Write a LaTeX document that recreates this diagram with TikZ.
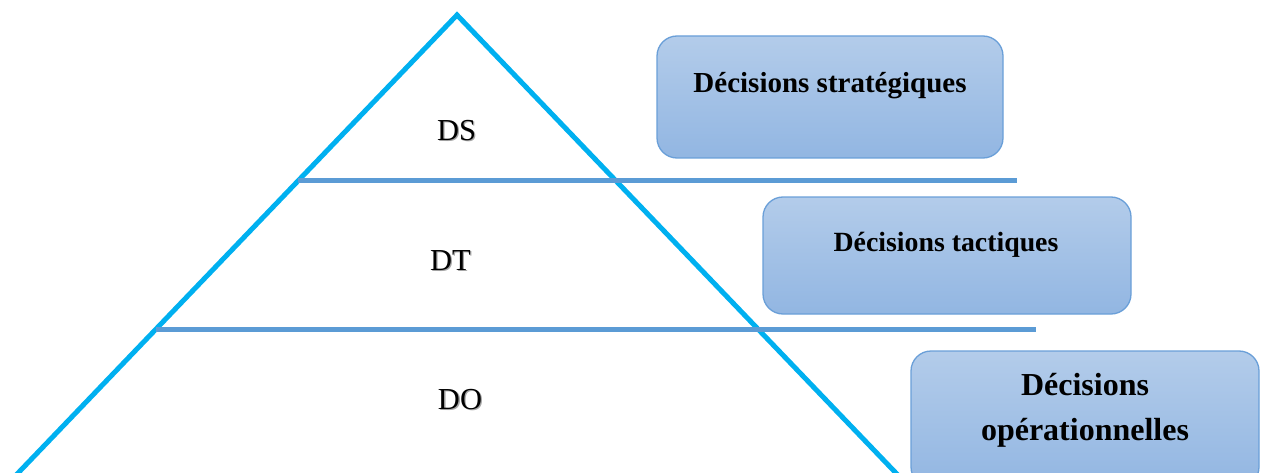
\documentclass[tikz,border=0pt]{standalone}
\usepackage{fontspec}
\setmainfont{Liberation Serif}
\begin{document}
\begin{tikzpicture}[x=1pt,y=-1pt,
  tri/.style={draw=triblue,line width=5pt,line join=miter},
  level/.style={draw=lvlblue,line width=5pt},
  decbox/.style={rectangle,rounded corners=20pt,draw=boxedge,line width=1.3pt,
    top color=boxtop,bottom color=boxbot,inner sep=0pt},
  lab/.style={inner sep=0pt,anchor=base,font=\fontsize{30.5}{34}\selectfont},
  shad/.style={inner sep=0pt,anchor=base,text=black!35,font=\fontsize{30.5}{34}\selectfont},
  btext/.style={inner sep=0pt,anchor=base,font=\bfseries\fontsize{#1}{#1}\selectfont}
]
\definecolor{triblue}{HTML}{00B0F0}
\definecolor{lvlblue}{HTML}{5B9BD5}
\definecolor{boxedge}{HTML}{6A9FD8}
\definecolor{boxtop}{HTML}{B3CCEA}
\definecolor{boxbot}{HTML}{92B6E2}
\useasboundingbox (0,0) rectangle (1265,473);
\begin{scope}
\clip (0,0) rectangle (1265,473);
% boxes
\node[decbox,minimum width=346pt,minimum height=122pt] (b1) at (830,97) {};
\node[decbox,minimum width=368pt,minimum height=117pt] (b2) at (947,255.5) {};
\node[decbox,minimum width=348pt,minimum height=136pt] (b3) at (1085,419) {};
% pyramid
\coordinate (apex) at (457,15);
\coordinate (bl) at (-3,495);
\coordinate (br) at (917,495);
\draw[tri] (bl) -- (apex) -- (br);
\coordinate (l1a) at (298,181);
\coordinate (l1b) at (1017,181);
\coordinate (l2a) at (156,329);
\coordinate (l2b) at (1036,329);
\draw[level] (l1a) -- (l1b);
\draw[level] (l2a) -- (l2b);
\end{scope}
% level labels
\node[shad] (dss) at (457.8,141.8) {DS};
\node[lab] (ds) at (456.5,140.5) {DS};
\node[shad] (dts) at (451.8,271.8) {DT};
\node[lab] (dt) at (450.5,270.5) {DT};
\node[shad] (dos) at (461.3,410.8) {DO};
\node[lab] (do) at (460,409.5) {DO};
% box texts
\node[btext=29] (t1) at (830,92.5) {Décisions stratégiques};
\node[btext=27.8] (t2) at (946,251.5) {Décisions tactiques};
\node[btext=32] (t3a) at (1085,395) {Décisions};
\node[btext=32] (t3b) at (1085,440) {opérationnelles};
\end{tikzpicture}
\end{document}
